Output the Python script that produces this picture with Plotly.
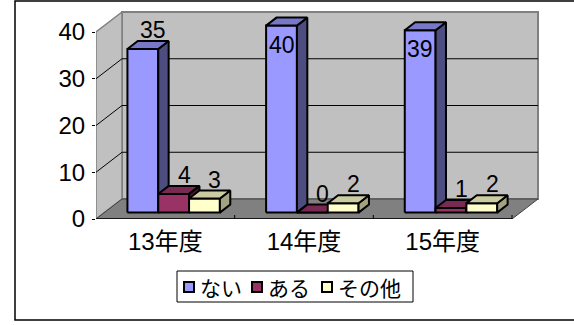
import plotly.graph_objects as go

# ---- data -------------------------------------------------------------
categories = ["13年度", "14年度", "15年度"]
series_names = ["ない", "ある", "その他"]
nai = [35, 40, 39]
aru = [4, 0, 1]
sonota = [3, 2, 2]
y_ticks = [0, 10, 20, 30, 40]

series_values = [nai, aru, sonota]

# face colours per series: (front, top, side)
face_colors = [
    ("#9999FF", "#7878C8", "#4D4D80"),
    ("#993366", "#7A2952", "#4D1A33"),
    ("#FFFFCC", "#CCCCA3", "#A3A382"),
]

# ---- page / plot-area geometry ------------------------------------------
W, H = 574, 325
L_PX, B_PX = 96, 219          # front-plane origin in page pixels
CAT_PX = 138.67               # pixels per category on the front plane
UNIT_PX = 4.675               # pixels per value unit
X_MAX = (W - L_PX) / CAT_PX
Y_MAX = B_PX / UNIT_PX
PLOT_W = W - L_PX

# depth of the 3-D box in data units
DX = 26 / CAT_PX
DY = 20 / UNIT_PX
BW = 1 / 4.5                  # bar width (gap width 150 %)
F0 = 0.32                     # depth position of the bar front faces
FD = 0.40                     # depth of a bar
YTOP = max(y_ticks)
NCAT = len(categories)

FONT = "Liberation Sans, Arial, Noto Sans CJK JP, sans-serif"
JP_FONT = "Noto Sans CJK JP, sans-serif"


def px_x(px):
    """page pixel -> paper x"""
    return (px - L_PX) / PLOT_W


def px_y(py):
    """page pixel -> paper y"""
    return (B_PX - py) / B_PX


fig = go.Figure()


def poly(xs, ys, fill, line_color, width):
    fig.add_trace(go.Scatter(
        x=list(xs) + [xs[0]], y=list(ys) + [ys[0]],
        mode="lines", fill="toself", fillcolor=fill,
        line=dict(color=line_color, width=width),
        hoverinfo="skip", showlegend=False))


def seg(xs, ys, color, width):
    fig.add_trace(go.Scatter(
        x=xs, y=ys, mode="lines", line=dict(color=color, width=width),
        hoverinfo="skip", showlegend=False))


# back wall, left wall, floor
poly([DX, NCAT + DX, NCAT + DX, DX], [DY, DY, YTOP + DY, YTOP + DY],
     "#C0C0C0", "#808080", 2)
poly([0, 0, DX, DX], [0, YTOP, YTOP + DY, DY], "#C0C0C0", "#808080", 1.5)
poly([0, NCAT, NCAT + DX, DX], [0, 0, DY, DY], "#808080", "#404040", 1)

# grid lines on the walls
for v in y_ticks[1:-1]:
    seg([DX, NCAT + DX], [v + DY, v + DY], "black", 1)
    seg([0, DX], [v, v + DY], "black", 1)

# front edge of the floor with category boundary ticks
seg([0, NCAT], [0, 0], "black", 1.5)
for c in range(1, NCAT + 1):
    seg([c, c], [0, 4 / UNIT_PX], "black", 1)

# 3-D columns
annotations = []
for c in range(NCAT):
    for s, vals in enumerate(series_values):
        v = vals[c]
        front, top, side = face_colors[s]
        x0 = c + 0.75 * BW + s * BW + F0 * DX
        x1 = x0 + BW
        y0 = F0 * DY
        y1 = y0 + v
        ddx, ddy = FD * DX, FD * DY
        # front face
        poly([x0, x1, x1, x0], [y0, y0, y1, y1], front, "black", 2)
        # side face
        poly([x1, x1 + ddx, x1 + ddx, x1], [y0, y0 + ddy, y1 + ddy, y1],
             side, "black", 2)
        # top face
        poly([x0, x1, x1 + ddx, x0 + ddx], [y1, y1, y1 + ddy, y1 + ddy],
             top, "black", 2)

        # value label: above the column, or inside when it would overflow
        label_top_px = B_PX - (y1 + ddy) * UNIT_PX - 20
        if label_top_px < 15:
            annotations.append(dict(
                x=(x0 + x1) / 2, y=y1, xref="x", yref="y", text=str(v),
                showarrow=False, xanchor="center", yanchor="top", yshift=-4,
                font=dict(family=FONT, size=23, color="black")))
        else:
            annotations.append(dict(
                x=(x0 + x1) / 2 + ddx, y=y1 + ddy, xref="x", yref="y",
                text=str(v), showarrow=False, xanchor="center",
                yanchor="bottom", yshift=-4,
                font=dict(family=FONT, size=23, color="black")))

# legend: framed box with colour keys and names
LEG_L, LEG_R, LEG_T, LEG_B = 177, 413, 271, 302
key_left = [184, 252, 322]
shapes = [
    dict(type="rect", xref="paper", yref="paper",
         x0=px_x(15), x1=px_x(W + 10), y0=px_y(320), y1=px_y(1),
         line=dict(color="black", width=1.5), layer="below"),
    dict(type="rect", xref="paper", yref="paper",
         x0=px_x(LEG_L), x1=px_x(LEG_R), y0=px_y(LEG_B), y1=px_y(LEG_T),
         line=dict(color="black", width=1), fillcolor="white",
         layer="above"),
]
leg_mid = (LEG_T + LEG_B) / 2 + 0.5
for name, (front, _, _), kx in zip(series_names, face_colors, key_left):
    shapes.append(dict(
        type="rect", xref="paper", yref="paper",
        x0=px_x(kx), x1=px_x(kx + 10), y0=px_y(leg_mid + 5),
        y1=px_y(leg_mid - 5), fillcolor=front,
        line=dict(color="black", width=2), layer="above"))
    annotations.append(dict(
        x=px_x(kx + 14), y=px_y(leg_mid), xref="paper", yref="paper",
        text=name, showarrow=False, xanchor="left", yanchor="middle",
        font=dict(family=JP_FONT, size=21, color="black")))

fig.update_layout(
    width=W, height=H,
    margin=dict(l=L_PX, r=0, t=0, b=H - B_PX, pad=0),
    paper_bgcolor="white", plot_bgcolor="rgba(0,0,0,0)",
    font=dict(family=FONT, color="black"),
    xaxis=dict(range=[0, X_MAX], showgrid=False, zeroline=False,
               showline=False, tickvals=[c + 0.5 for c in range(NCAT)],
               ticktext=categories, ticks="", ticklabelstandoff=6,
               tickfont=dict(size=24, family=FONT), fixedrange=True),
    yaxis=dict(range=[0, Y_MAX], showgrid=False, zeroline=False,
               showline=False, tickvals=y_ticks, ticks="outside",
               ticklen=3, tickcolor="black", ticklabelstandoff=2,
               tickfont=dict(size=24, family=FONT), fixedrange=True),
    showlegend=False,
    annotations=annotations,
    shapes=shapes,
)

fig.write_html("out.html")
